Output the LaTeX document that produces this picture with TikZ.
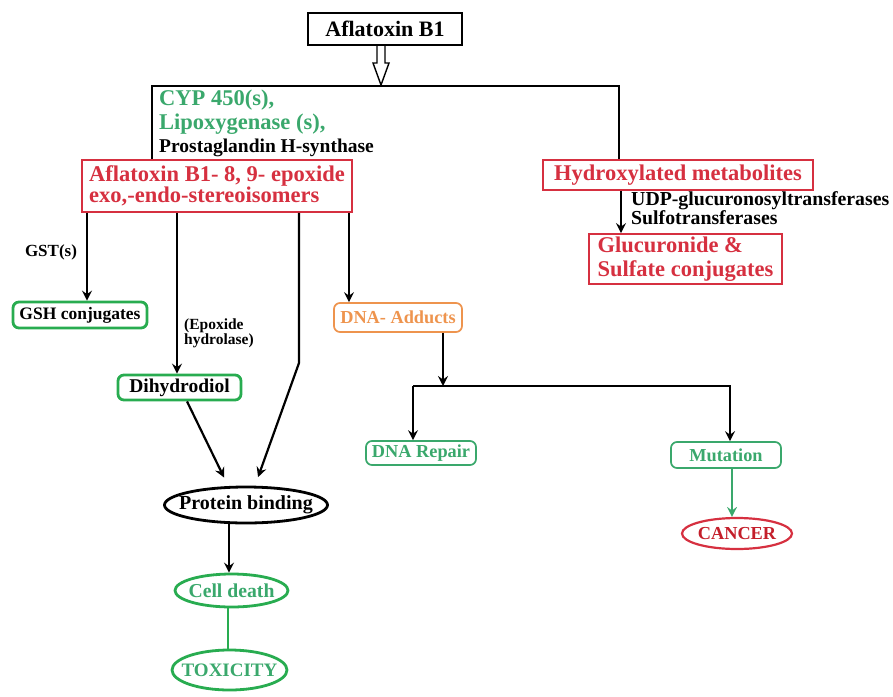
\documentclass[tikz,border=0pt]{standalone}
\usepackage{fontspec}
\setmainfont{Liberation Serif}
\usetikzlibrary{shapes.geometric}
\usetikzlibrary{arrows.meta}
\usepackage{xcolor}
\definecolor{tred}{RGB}{214,48,64}
\definecolor{dred}{RGB}{196,30,42}
\definecolor{tgreen}{RGB}{58,168,108}
\definecolor{bgreen}{RGB}{40,172,80}
\definecolor{torange}{RGB}{238,148,78}

\begin{document}
\begin{tikzpicture}[x=1pt, y=-1pt]
        % ================= 样式定义 =================
        \tikzset{
            % 方框:黑框 / 红框
            blackbox/.style={draw=black, line width=2pt, inner sep=0pt, font=\bfseries\fontsize{22}{22}\selectfont},
            redbox/.style={draw=tred, line width=1.8pt, text=tred, align=left, inner sep=0pt, font=\bfseries\fontsize{22.5}{21}\selectfont},
            % 圆角框:粗绿框 / 细框
            greenbox/.style={draw=bgreen, rounded corners=6pt, line width=2.8pt, inner sep=0pt},
            thinbox/.style={rounded corners=6pt, line width=1.7pt, inner sep=0pt, font=\bfseries\fontsize{18.3}{18}\selectfont},
            % 椭圆
            oval/.style={ellipse, line width=2.8pt, inner sep=0pt},
            % 说明文字
            lbl/.style={inner sep=0pt, font=\bfseries\fontsize{19.8}{17}\selectfont},
            % 边
            edge/.style={line width=2.2pt, -{Stealth[length=10pt, width=10pt, inset=3.5pt]}},
            plain/.style={line width=2.2pt}
        }

        \useasboundingbox (0,0) rectangle (893,696);

        % ================= 1. 顶部 (Aflatoxin B1) =================
        \node[blackbox, minimum width=154, minimum height=32] (afb) at (385,29) {Aflatoxin B1};

        % 空心箭头
        \draw[line width=1.4pt, fill=white] (afb.south) ++(-8,0) -- ++(0,17) -- ++(-4,0)
            -- ++(8,22) -- ++(8,-22) -- ++(-4,0) -- ++(0,-17);

        % 分叉点
        \coordinate (split) at (152,86);
        \coordinate (hsplit) at (619,86);

        % ================= 2. 酶 (Enzymes) =================
        \node[lbl, anchor=west, text=tgreen, font=\bfseries\fontsize{22.5}{22.5}\selectfont] (cyp) at (159,100) {CYP 450(s),};
        \node[lbl, anchor=west, text=tgreen, font=\bfseries\fontsize{22.5}{22.5}\selectfont] (lox) at (159,124) {Lipoxygenase (s),};
        \node[lbl, anchor=west, font=\bfseries\fontsize{19.5}{19.5}\selectfont] (pgh) at (159,148) {Prostaglandin H-synthase};

        % ================= 3. 红框 (Red Boxes) =================
        \node[redbox, minimum width=270, minimum height=52] (epox) at (217,186) {Aflatoxin B1- 8, 9- epoxide\\exo,-endo-stereoisomers};
        \node[redbox, minimum width=270, minimum height=30] (hyd) at (678,175) {Hydroxylated metabolites};
        \node[redbox, minimum width=193, minimum height=50, font=\bfseries\fontsize{22.5}{24}\selectfont] (gluc) at (685.5,259) {Glucuronide \&\\Sulfate conjugates};

        \draw[plain] (epox.north -| split) -- (split) -- (hsplit) -- (hyd.north -| hsplit);

        \node[lbl, anchor=west, align=left] (ugt) at (631,208) {UDP-glucuronosyltransferases\\Sulfotransferases};
        \coordinate (xh) at (621,0);
        \draw[edge] (hyd.south -| xh) -- (gluc.north -| xh);

        % ================= 4. 环氧化物去向 (Epoxide) =================
        \node[greenbox, minimum width=134, minimum height=26, font=\bfseries\fontsize{17.5}{17.5}\selectfont] (gsh) at (80,315) {GSH conjugates};
        \node[greenbox, minimum width=123, minimum height=25, font=\bfseries\fontsize{19.5}{19.5}\selectfont] (dhd) at (179.5,387.5) {Dihydrodiol};
        \node[thinbox, draw=torange, text=torange, minimum width=128, minimum height=29] (add) at (398,317.5) {DNA- Adducts};

        \node[lbl, font=\bfseries\fontsize{17}{17}\selectfont] (gst) at (51,252) {GST(s)};
        \node[lbl, anchor=west, align=left, font=\bfseries\fontsize{15.5}{15}\selectfont] (eh) at (184,333) {(Epoxide\\hydrolase)};

        \coordinate (xg) at (87,0);
        \coordinate (xd) at (177,0);
        \coordinate (xp) at (299,0);
        \coordinate (xa) at (349,0);
        \coordinate (bend) at (299,363);

        \draw[edge] (epox.south -| xg) -- (gsh.north -| xg);
        \draw[edge] (epox.south -| xd) -- (dhd.north -| xd);
        \draw[edge] (epox.south -| xa) -- (add.north -| xa);

        % ================= 5. 蛋白结合 (Protein binding) =================
        \node[oval, draw=black, minimum width=163, minimum height=36, font=\bfseries\fontsize{20}{20}\selectfont] (pb) at (246,505) {\makebox[0pt]{Protein binding}};
        \node[oval, draw=bgreen, text=tgreen, minimum width=113, minimum height=33, font=\bfseries\fontsize{19.7}{19.7}\selectfont] (cd) at (231.5,590.5) {\makebox[0pt]{Cell death}};
        \node[oval, draw=bgreen, text=tgreen, minimum width=115, minimum height=40, font=\bfseries\fontsize{19}{19}\selectfont] (tox) at (229.5,670) {\makebox[0pt]{TOXICITY}};

        \coordinate (xdd) at (187,0);
        \coordinate (xpl) at (228,0);
        \coordinate (xpr) at (255,0);
        \coordinate (xc) at (229,0);
        \coordinate (xt) at (228,0);

        \draw[edge, shorten >=9pt] (epox.south -| xp) -- (bend) -- (pb.north -| xpr);
        \draw[edge, shorten >=9pt] (dhd.south -| xdd) -- (pb.north -| xpl);
        \draw[edge] (pb.south -| xc) -- (cd.north -| xc);
        \draw[line width=2.8pt, bgreen] (cd.south -| xt) -- (tox.north -| xt);

        % ================= 6. DNA 加合物 (DNA Adducts) =================
        \node[thinbox, draw=tgreen, text=tgreen, minimum width=110, minimum height=24] (rep) at (421,453) {DNA Repair};
        \node[thinbox, draw=tgreen, text=tgreen, minimum width=110, minimum height=26] (mut) at (726,455) {Mutation};
        \node[oval, draw=tred, text=dred, line width=2.2pt, minimum width=110, minimum height=31, font=\bfseries\fontsize{18.3}{18.3}\selectfont] (can) at (737,533.5) {\makebox[0pt]{CANCER}};

        \coordinate (xad) at (443,0);
        \coordinate (fork) at (443,386);
        \coordinate (fl) at (413,386);
        \coordinate (fr) at (730,386);
        \coordinate (xm) at (732,0);

        \draw[edge] (add.south -| xad) -- (fork);
        \draw[edge] (fl) -- (fr) -- (mut.north -| fr);
        \draw[edge] (fl) -- (rep.north -| fl);
        \draw[edge, tgreen, line width=1.7pt] (mut.south -| xm) -- (can.north -| xm);

    \end{tikzpicture}
\end{document}
